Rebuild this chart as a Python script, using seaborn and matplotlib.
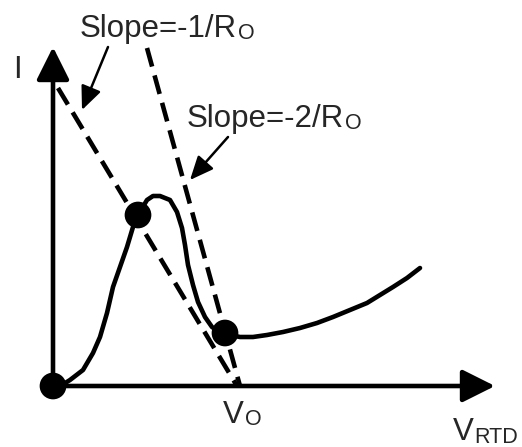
import numpy as np
import pandas as pd
import matplotlib
matplotlib.use('Agg')
import matplotlib.pyplot as plt
import seaborn as sns

sns.set_style('white')
plt.rcParams['font.family'] = ['Liberation Sans', 'DejaVu Sans']

# RTD I-V curve (arbitrary units)
v_rtd = [0.00, 0.09, 0.17, 0.30, 0.40, 0.47, 0.54, 0.60, 0.67, 0.74, 0.80, 0.85, 0.94, 1.00,
         1.07, 1.17, 1.24, 1.29, 1.32, 1.35, 1.40, 1.45, 1.52, 1.59, 1.65, 1.72,
         1.87, 2.00, 2.14, 2.30, 2.47, 2.64, 2.80, 2.97, 3.14, 3.27, 3.40, 3.54, 3.67]
i_rtd = [0.00, 0.01, 0.06, 0.16, 0.33, 0.49, 0.73, 0.99, 1.19, 1.39, 1.59, 1.71, 1.86, 1.90,
         1.90, 1.86, 1.74, 1.58, 1.41, 1.21, 1.01, 0.84, 0.69, 0.59, 0.55, 0.52,
         0.49, 0.49, 0.51, 0.54, 0.58, 0.63, 0.69, 0.76, 0.83, 0.91, 0.99, 1.08, 1.18]

# operating points
pt_v = [0.00, 0.85, 1.72]
pt_i = [0.00, 1.71, 0.53]

# load lines (end points)
line1_v = [0.05, 1.84]   # slope -1/Ro
line1_i = [2.98, 0.00]
line2_v = [0.94, 1.87]   # slope -2/Ro
line2_i = [3.38, 0.00]

curve = pd.DataFrame({'V': v_rtd, 'I': i_rtd})
pts = pd.DataFrame({'V': pt_v, 'I': pt_i})
l1 = pd.DataFrame({'V': line1_v, 'I': line1_i})
l2 = pd.DataFrame({'V': line2_v, 'I': line2_i})

fig = plt.figure(figsize=(5.22, 4.47), dpi=100)
ax = fig.add_axes([0, 0, 1, 1])
ax.set_xlim(-0.53, 4.69)
ax.set_ylim(-0.61, 3.86)
ax.axis('off')

dash = (0, (4.2, 2.0))
sns.lineplot(data=l1, x='V', y='I', ax=ax, color='black', lw=3.3, linestyle=dash, sort=False)
sns.lineplot(data=l2, x='V', y='I', ax=ax, color='black', lw=3.3, linestyle=dash, sort=False)
sns.lineplot(data=curve, x='V', y='I', ax=ax, color='black', lw=3.3, sort=False,
             solid_joinstyle='round', solid_capstyle='round')

# axes with arrow heads
axis_arrow = dict(arrowstyle='-|>,head_length=0.8,head_width=0.4', mutation_scale=25,
                  lw=3.3, color='black', shrinkA=0, shrinkB=0)
ax.annotate('', xy=(0, 3.39), xytext=(0, 0), arrowprops=axis_arrow)
ax.annotate('', xy=(4.42, 0), xytext=(0, 0), arrowprops=axis_arrow)

sns.scatterplot(data=pts, x='V', y='I', ax=ax, color='black', s=370, edgecolor='none', zorder=5)

# labels with pointer arrows
ptr = dict(arrowstyle='-|>,head_length=0.8,head_width=0.35', mutation_scale=18,
           lw=1.8, color='black', shrinkA=0, shrinkB=0)
ax.annotate('', xy=(0.29, 2.76), xytext=(0.55, 3.39), arrowprops=ptr)
ax.annotate('', xy=(1.37, 2.06), xytext=(1.75, 2.49), arrowprops=ptr)

fs = 22.5
fs_sub = 15.5


def label(x, y, main, sub=None):
    t = ax.text(x, y, main, fontsize=fs, va='baseline', ha='left')
    if sub:
        ax.annotate(sub, xy=(1, 0), xycoords=t, xytext=(0.5, -0.3), textcoords='offset points',
                    fontsize=fs_sub, va='bottom', ha='left')


label(0.27, 3.49, 'Slope=-1/R', 'O')
label(1.34, 2.59, 'Slope=-2/R', 'O')
label(-0.40, 3.08, 'I')
label(1.70, -0.37, 'V', 'O')
label(4.00, -0.545, 'V', 'RTD')

fig.savefig('out.png', dpi=100)
